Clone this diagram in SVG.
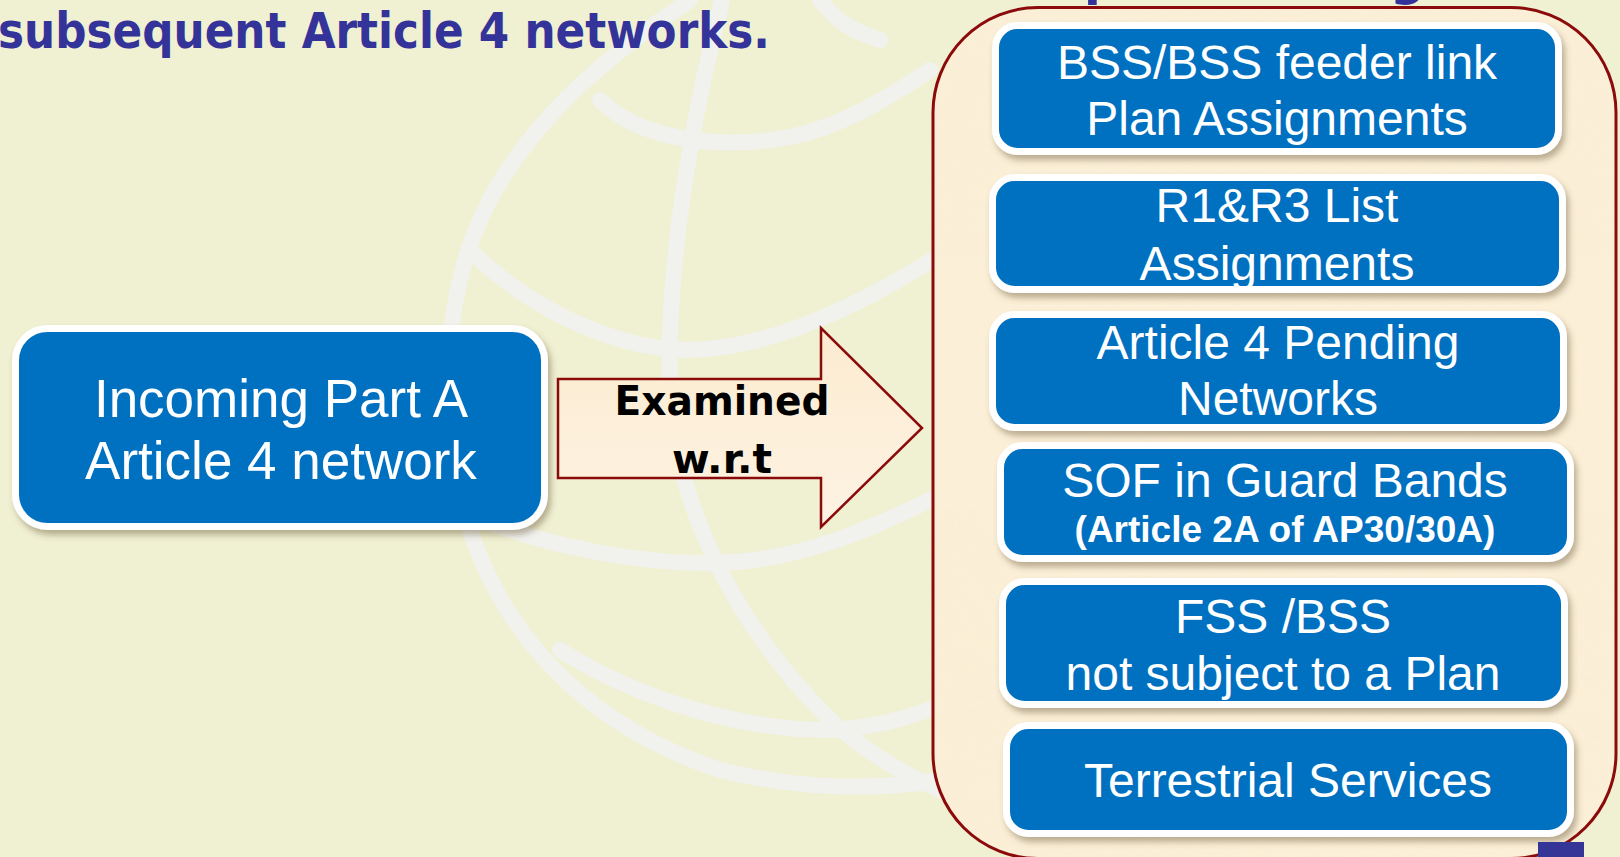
<svg xmlns="http://www.w3.org/2000/svg" width="1620" height="857" viewBox="0 0 1620 857">
  <defs>
    <style>
      .globe { fill: none; stroke: #F1F2EE; stroke-width: 16; stroke-linecap: round; }
      .node rect { fill: #0070C0; stroke: #FFFFFF; stroke-width: 7; filter: url(#shadow); }
      .lbl { font-family: "Liberation Sans", Arial, sans-serif; fill: #FFFFFF; text-anchor: middle; font-size: 48px; }
      .lbl-big { font-size: 53px; }
      .lbl-sub { font-size: 37px; font-weight: bold; }
      .heading { font-family: "DejaVu Sans", Verdana, sans-serif; font-weight: bold; fill: #333399; }
      .arrow-lbl { font-family: "DejaVu Sans", Verdana, sans-serif; font-weight: bold; font-size: 41px; fill: #000000; text-anchor: middle; }
    </style>
    <filter id="shadow" x="-10%" y="-10%" width="125%" height="135%">
      <feDropShadow dx="3" dy="5" stdDeviation="3" flood-color="#6B5A3A" flood-opacity="0.45"/>
    </filter>
    <linearGradient id="arrowFill" x1="0" y1="0" x2="0" y2="1">
      <stop offset="0" stop-color="#FCEBD0"/>
      <stop offset="1" stop-color="#FDF3E3"/>
    </linearGradient>
    <filter id="parchment" x="0" y="0" width="100%" height="100%">
      <feTurbulence type="fractalNoise" baseFrequency="0.018 0.03" numOctaves="3" seed="4" result="n"/>
      <feColorMatrix in="n" type="matrix" values="0 0 0 0 0.96  0 0 0 0 0.86  0 0 0 0 0.68  0 0 0 0.55 -0.12" result="tint"/>
      <feComposite in="tint" in2="SourceGraphic" operator="in"/>
    </filter>
    <clipPath id="frameClip">
      <rect x="933" y="7.5" width="683" height="851" rx="105"/>
    </clipPath>
  </defs>

  <!-- page background -->
  <rect width="1620" height="857" fill="#F0F0D2"/>

  <!-- faint globe watermark -->
  <g id="globe">
    <path class="globe" d="M 690,0 C 600,60 520,130 480,220 C 440,310 440,430 470,530 C 510,650 600,730 720,770 C 800,790 880,790 940,780"/>
    <path class="globe" d="M 600,100 C 640,140 720,150 790,137 C 840,127 885,100 930,70"/>
    <path class="globe" d="M 470,250 C 520,300 600,345 680,350 C 760,352 850,312 940,255"/>
    <path class="globe" d="M 470,515 C 540,545 640,565 720,563 C 800,560 870,530 940,495"/>
    <path class="globe" d="M 560,650 C 640,700 740,730 830,730 C 870,728 905,720 940,705"/>
    <path class="globe" d="M 722,0 C 692,120 666,260 670,390 C 675,500 730,620 830,720 C 870,755 905,775 940,790"/>
    <path class="globe" d="M 820,0 C 835,20 850,30 880,40"/>
  </g>

  <!-- slide heading -->
  <text class="heading" x="-2" y="48" font-size="49" textLength="772" lengthAdjust="spacingAndGlyphs">subsequent Article 4 networks.</text>
  <text class="heading" font-size="49" y="-5"><tspan x="1084">p</tspan><tspan x="1390">g</tspan></text>

  <!-- container of the reference groups -->
  <g id="group-frame">
    <rect x="933" y="7.5" width="683" height="851" rx="105" fill="#FBEFD7"/>
    <rect x="933" y="7.5" width="683" height="851" fill="#FBEFD7" filter="url(#parchment)" clip-path="url(#frameClip)" opacity="0.6"/>
    <rect x="933" y="7.5" width="683" height="851" rx="105" fill="none" stroke="#8B0A0A" stroke-width="3"/>
  </g>

  <!-- connector -->
  <g id="connectors">
    <polygon points="558,379 821,379 821,328 922,428 821,527 821,478 558,478" fill="url(#arrowFill)" stroke="#8B0A0A" stroke-width="2.5" stroke-linejoin="miter"/>
    <text class="arrow-lbl" x="722" y="415" textLength="215" lengthAdjust="spacingAndGlyphs">Examined</text>
    <text class="arrow-lbl" x="722" y="473" textLength="100" lengthAdjust="spacingAndGlyphs">w.r.t</text>
  </g>

  <g id="node-incoming" class="node">
    <rect x="15.5" y="328.5" width="529" height="198" rx="32"/>
    <text class="lbl lbl-big" x="281" y="417">Incoming Part A</text>
    <text class="lbl lbl-big" x="281" y="479">Article 4 network</text>
  </g>

  <g id="node-bss-feeder" class="node">
    <rect x="995.5" y="25.5" width="563" height="126" rx="22"/>
    <text class="lbl" x="1277" y="79">BSS/BSS feeder link</text>
    <text class="lbl" x="1277" y="135">Plan Assignments</text>
  </g>

  <g id="node-r1r3" class="node">
    <rect x="992.5" y="177.5" width="570" height="112" rx="22"/>
    <text class="lbl" x="1277" y="222">R1&amp;R3 List</text>
    <text class="lbl" x="1277" y="280">Assignments</text>
  </g>

  <g id="node-art4-pending" class="node">
    <rect x="992.5" y="314.5" width="571" height="113" rx="22"/>
    <text class="lbl" x="1278" y="359">Article 4 Pending</text>
    <text class="lbl" x="1278" y="415">Networks</text>
  </g>

  <g id="node-sof" class="node">
    <rect x="1000.5" y="445.5" width="570" height="113" rx="22"/>
    <text class="lbl" x="1285" y="497">SOF in Guard Bands</text>
    <text class="lbl lbl-sub" x="1285" y="542">(Article 2A of AP30/30A)</text>
  </g>

  <g id="node-fss-bss" class="node">
    <rect x="1002.5" y="581.5" width="562" height="123" rx="22"/>
    <text class="lbl" x="1283" y="633">FSS /BSS</text>
    <text class="lbl" x="1283" y="690">not subject to a Plan</text>
  </g>

  <g id="node-terrestrial" class="node">
    <rect x="1006.5" y="725.5" width="564" height="108" rx="22"/>
    <text class="lbl" x="1288" y="797">Terrestrial Services</text>
  </g>

  <!-- slide footer tab -->
  <rect x="1538" y="842" width="46" height="15" fill="#353597"/>
</svg>
